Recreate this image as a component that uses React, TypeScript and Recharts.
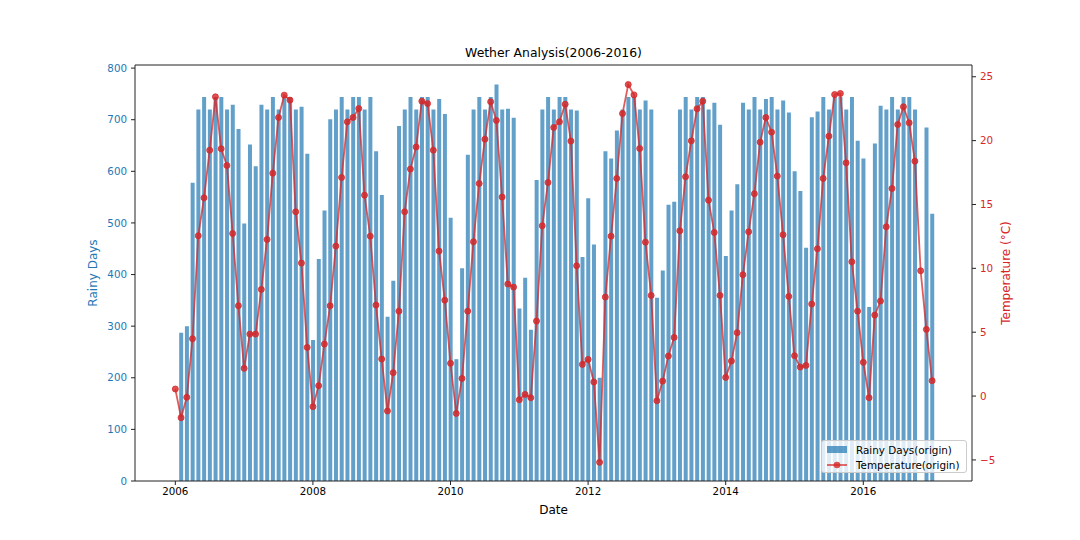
import React from "react";
import { ComposedChart, Bar, Line, XAxis, YAxis, Legend, ReferenceLine } from "recharts";

// monthly series, Jan 2006 .. Jan 2017
const startYear = 2006;

const rainyDays = [
  null, 287, 300, 578, 720, 744, 720, 744, 744, 720, 729, 682,
  499, 652, 610, 729, 720, 744, 720, 744, 744, 720, 725, 634,
  273, 430, 524, 701, 720, 744, 720, 744, 744, 720, 744, 639,
  554, 318, 388, 688, 720, 744, 720, 744, 744, 720, 740, 711,
  510, 236, 412, 632, 720, 744, 720, 744, 768, 720, 721, 704,
  334, 394, 293, 583, 720, 744, 720, 744, 744, 720, 718, 434,
  548, 458, 200, 639, 625, 679, 720, 744, 744, 720, 737, 720,
  355, 408, 535, 541, 720, 744, 720, 744, 744, 720, 733, 690,
  436, 524, 575, 733, 720, 744, 720, 740, 744, 720, 737, 714,
  600, 562, 452, 705, 716, 744, 720, 744, 744, 720, 744, 659,
  625, 337, 654, 727, 720, 744, 720, 744, 744, 720, null, 685,
  518,
];

const temperature = [
  0.55, -1.69, -0.1, 4.49, 12.55, 15.52, 19.25, 23.43, 19.36, 18.05, 12.73, 7.07,
  2.17, 4.85, 4.85, 8.35, 12.26, 17.45, 21.81, 23.56, 23.17, 14.43, 10.41, 3.81,
  -0.83, 0.81, 4.07, 7.07, 11.74, 17.11, 21.47, 21.81, 22.51, 15.73, 12.52, 7.12,
  2.9, -1.17, 1.83, 6.65, 14.43, 17.77, 19.5, 23.09, 22.9, 19.25, 11.35, 7.51,
  2.56, -1.36, 1.38, 6.65, 12.08, 16.64, 20.11, 23.04, 21.58, 15.58, 8.77, 8.53,
  -0.29, 0.13, -0.13, 5.87, 13.33, 16.72, 21.03, 21.47, 22.85, 19.96, 10.2, 2.48,
  2.87, 1.1, -5.19, 7.75, 12.52, 17.04, 22.12, 24.39, 23.58, 19.38, 12.05, 7.88,
  -0.37, 1.17, 3.13, 4.59, 12.94, 17.17, 19.98, 22.49, 23.09, 15.34, 12.81, 7.88,
  1.46, 2.74, 4.96, 9.5, 12.86, 15.84, 19.88, 21.81, 20.66, 17.22, 12.63, 7.8,
  3.16, 2.27, 2.4, 7.2, 11.53, 17.04, 20.35, 23.61, 23.69, 18.26, 10.51, 6.65,
  2.64, -0.13, 6.34, 7.44, 13.25, 16.25, 21.26, 22.65, 21.39, 18.39, 9.81, 5.22,
  1.2,
];

const yearTicks = [2006, 2008, 2010, 2012, 2014, 2016];
const rainTicks = [0, 100, 200, 300, 400, 500, 600, 700, 800];
const tempTicks = [-5, 0, 5, 10, 15, 20, 25];

const data = temperature.map((t, i) => ({
  date: startYear + i / 12,
  rainy: rainyDays[i],
  temp: t,
}));

const BLUE = "#1f77b4";
const RED = "#d62728";
const FONT = "'DejaVu Sans', sans-serif";
const xDomain = [2005.414, 2017.58];
const rainMax = 806;

function LeftLabel(props: any) {
  const { x, y, height } = props.viewBox;
  const cx = x + 18;
  const cy = y + height / 2;
  return (
    <text
      x={cx}
      y={cy}
      transform={`rotate(-90 ${cx} ${cy})`}
      textAnchor="middle"
      dominantBaseline="central"
      fontSize={12}
      fill={BLUE}
      fontFamily={FONT}
    >
      Rainy Days
    </text>
  );
}

function RightLabel(props: any) {
  const { x, y, height } = props.viewBox;
  const cx = x + 34;
  const cy = y + height / 2;
  return (
    <text
      x={cx}
      y={cy}
      transform={`rotate(-90 ${cx} ${cy})`}
      textAnchor="middle"
      dominantBaseline="central"
      fontSize={12}
      fill={RED}
      fontFamily={FONT}
    >
      Temperature (°C)
    </text>
  );
}

function DateLabel(props: any) {
  const { x, y, width } = props.viewBox;
  return (
    <text x={x + width / 2} y={y + 33} textAnchor="middle" fontSize={12} fill="#000" fontFamily={FONT}>
      Date
    </text>
  );
}

function renderLegend() {
  return (
    <div
      style={{
        position: "relative",
        width: 146,
        height: 33,
        boxSizing: "border-box",
        border: "1px solid #cccccc",
        borderRadius: 3,
        background: "rgba(255,255,255,0.8)",
        fontFamily: FONT,
        fontSize: 10.4,
        color: "#000",
      }}
    >
      <div
        style={{ position: "absolute", left: 5, top: 4.5, width: 20, height: 7, background: BLUE, opacity: 0.7 }}
      />
      <div style={{ position: "absolute", left: 34, top: 1.5, lineHeight: "14px", whiteSpace: "nowrap" }}>
        Rainy Days(origin)
      </div>
      <svg style={{ position: "absolute", left: 4, top: 17 }} width={22} height={14}>
        <line x1={1} y1={7} x2={21} y2={7} stroke={RED} strokeOpacity={0.75} strokeWidth={1.8} />
        <circle cx={11} cy={7} r={3.3} fill={RED} fillOpacity={0.8} />
      </svg>
      <div style={{ position: "absolute", left: 34, top: 16.5, lineHeight: "14px", whiteSpace: "nowrap" }}>
        Temperature(origin)
      </div>
    </div>
  );
}

export default function App() {
  return (
    <div style={{ position: "absolute", left: 0, top: 0, width: 1080, height: 540, background: "#fff" }}>
      <div
        style={{
          position: "absolute",
          left: 135,
          width: 837,
          top: 46.5,
          textAlign: "center",
          fontFamily: FONT,
          fontSize: 12.4,
          lineHeight: 1,
          color: "#000",
        }}
      >
        Wether Analysis(2006-2016)
      </div>
      <ComposedChart
        width={1080}
        height={540}
        data={data}
        margin={{ top: 65, right: 58, bottom: 29, left: 75 }}
        style={{ fontFamily: FONT }}
      >
        <XAxis
          dataKey="date"
          type="number"
          domain={xDomain}
          allowDataOverflow
          ticks={yearTicks}
          tickFormatter={(v) => String(Math.round(v))}
          tick={{ fontSize: 10.3, fill: "#000" }}
          tickSize={4}
          tickMargin={3}
          height={30}
          stroke="#222"
          label={DateLabel}
        />
        <YAxis
          yAxisId="left"
          domain={[0, rainMax]}
          allowDataOverflow
          ticks={rainTicks}
          tick={{ fontSize: 10.3, fill: BLUE }}
          tickSize={4}
          tickMargin={4}
          width={60}
          stroke="#222"
          label={LeftLabel}
        />
        <YAxis
          yAxisId="right"
          orientation="right"
          domain={[-6.65, 25.92]}
          allowDataOverflow
          ticks={tempTicks}
          tickFormatter={(v) => (v < 0 ? "\u2212" + Math.abs(v) : String(v))}
          tick={{ fontSize: 10.3, fill: RED }}
          tickSize={4}
          tickMargin={4}
          width={50}
          stroke="#222"
          label={RightLabel}
        />
        <Bar
          yAxisId="left"
          dataKey="rainy"
          name="Rainy Days(origin)"
          fill={BLUE}
          fillOpacity={0.7}
          barSize={4}
          isAnimationActive={false}
        />
        <Line
          yAxisId="right"
          dataKey="temp"
          name="Temperature(origin)"
          type="linear"
          stroke={RED}
          strokeOpacity={0.75}
          strokeWidth={1.8}
          dot={{ r: 3, fill: RED, fillOpacity: 0.8, stroke: RED, strokeOpacity: 0.8, strokeWidth: 1 }}
          activeDot={false}
          isAnimationActive={false}
        />
        {/* top frame line */}
        <ReferenceLine yAxisId="left" y={rainMax} stroke="#222" strokeWidth={1} />
        <Legend
          layout="horizontal"
          verticalAlign="middle"
          align="center"
          content={renderLegend}
          wrapperStyle={{ left: 821, top: 440, width: 146, height: 33 }}
        />
      </ComposedChart>
    </div>
  );
}
